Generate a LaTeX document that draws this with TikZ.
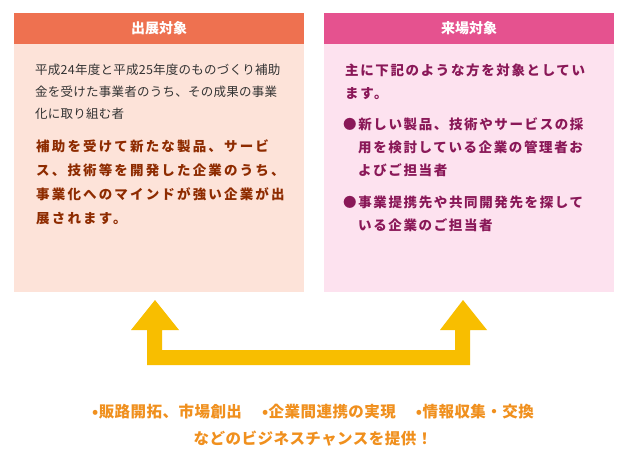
\documentclass[tikz,border=0pt]{standalone}
\usepackage{fontspec}
\setmainfont{Noto Sans CJK JP}
\usetikzlibrary{positioning}
\definecolor{hdleft}{HTML}{EE7150}
\definecolor{hdright}{HTML}{E5528F}
\definecolor{bgleft}{HTML}{FDE3D9}
\definecolor{bgright}{HTML}{FDE2EF}
\definecolor{txbrown}{HTML}{8E2B00}
\definecolor{txplum}{HTML}{8A1858}
\definecolor{txorange}{HTML}{F0901E}
\definecolor{arrowyel}{HTML}{F8BE00}
\tikzset{
  header/.style={minimum width=290pt,minimum height=31pt,inner sep=0pt,text=white,font=\fontsize{14}{14}\selectfont\bfseries},
  panel/.style={minimum width=290pt,minimum height=248pt,inner sep=0pt},
  para/.style={anchor=north west,inner sep=0pt,align=left},
}
\begin{document}
\begin{tikzpicture}[x=1pt,y=-1pt]
	\useasboundingbox[fill=white] (0,0) rectangle (626,463);
	
	%LEFT
	\node[panel,fill=bgleft,anchor=north west] (lbody) at (14,44) {};
	\node[header,fill=hdleft,anchor=south] (lhead) at (lbody.north) {出展対象};
	\node[para,text=black!80,font=\fontsize{12.5}{22}\selectfont\addfontfeature{LetterSpace=2}] (ltext) at (35,64)
		{平成24年度と平成25年度のものづくり補助\\金を受けた事業者のうち、その成果の事業\\化に取り組む者};
	\node[para,text=txbrown,font=\fontsize{13.5}{24}\selectfont\bfseries\addfontfeature{LetterSpace=16}] (lbold) at (36,140)
		{補助を受けて新たな製品、サービ\\ス、技術等を開発した企業のうち、\\事業化へのマインドが強い企業が出\\展されます。};
	
	%RIGHT
	\node[panel,fill=bgright,anchor=north west] (rbody) at (324,44) {};
	\node[header,fill=hdright,anchor=south] (rhead) at (rbody.north) {来場対象};
	\node[para,text=txplum,font=\fontsize{13.5}{23}\selectfont\bfseries\addfontfeature{LetterSpace=12}] (rtext) at (345,64)
		{主に下記のような方を対象としてい\\ます。};
	\node[para,text=txplum,font=\fontsize{13.5}{23}\selectfont\bfseries\addfontfeature{LetterSpace=12}] (rlist1) at (343,118)
		{●新しい製品、技術やサービスの採\\\hspace*{15pt}用を検討している企業の管理者お\\\hspace*{15pt}よびご担当者};
	\node[para,text=txplum,font=\fontsize{13.5}{23}\selectfont\bfseries\addfontfeature{LetterSpace=12}] (rlist2) at (343,196)
		{●事業提携先や共同開発先を探して\\\hspace*{15pt}いる企業のご担当者};
	
	%ARROW
	\fill[arrowyel] (147,365)--(147,330)--(131,330)--(155,300)--(179,330)--(162,330)--(162,350)
		--(455,350)--(455,330)--(440,330)--(463,300)--(487,330)--(470,330)--(470,365)--cycle;
	
	%BOTTOM
	\node[text=txorange,font=\fontsize{15.5}{27}\selectfont\bfseries\addfontfeature{LetterSpace=3},align=center] (offer) at (313,425)
		{•販路開拓、市場創出\hspace{20pt}•企業間連携の実現\hspace{20pt}•情報収集・交換\\などのビジネスチャンスを提供！};
\end{tikzpicture}
\end{document}
